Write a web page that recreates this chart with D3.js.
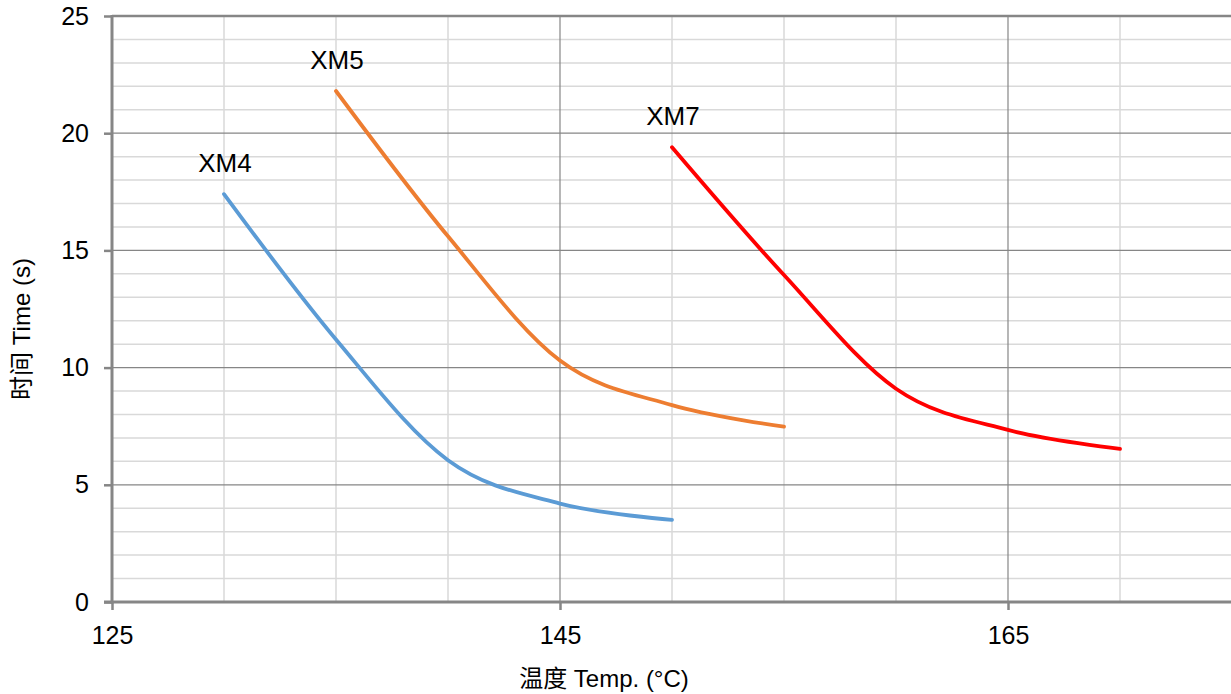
<!DOCTYPE html>
<html>
<head>
<meta charset="utf-8">
<script src="https://cdn.jsdelivr.net/npm/d3@7"></script>
<style>
html,body{margin:0;padding:0;background:#fff;}
svg{display:block;font-family:"Liberation Sans",Arial,"Noto Sans CJK SC",sans-serif;}
</style>
</head>
<body>
<svg id="chart" width="1231" height="694"></svg>
<script>
const temps4 = [130, 135, 140, 145, 150];
const xm4 = [17.4, 11.2, 6.05, 4.2, 3.5];
const temps5 = [135, 140, 145, 150, 155];
const xm5 = [21.8, 15.6, 10.3, 8.4, 7.48];
const temps7 = [150, 155, 160, 165, 170];
const xm7 = [19.4, 13.95, 9.1, 7.34, 6.53];
const seriesNames = ["XM4", "XM5", "XM7"];
const xTicks = [125, 145, 165];
const yTicks = [0, 5, 10, 15, 20, 25];

const series = [
  {name: seriesNames[0], x: temps4, y: xm4, color: "#5B9BD5"},
  {name: seriesNames[1], x: temps5, y: xm5, color: "#ED7D31"},
  {name: seriesNames[2], x: temps7, y: xm7, color: "#FF0000"}
];

const svg = d3.select("#chart");
const pL = 112, pR = 1232, pT = 16, pB = 602;
const x = d3.scaleLinear().domain([125, 175]).range([pL, pR]);
const y = d3.scaleLinear().domain([0, 25]).range([pB, pT]);

const g = svg.append("g");
// minor grid
const minorX = d3.range(125, 176, 5).filter(v => !xTicks.includes(v));
const minorY = d3.range(0, 26, 1).filter(v => v % 5 !== 0);
g.selectAll(".mx").data(minorX).enter().append("line")
  .attr("x1", d => x(d)).attr("x2", d => x(d)).attr("y1", pT).attr("y2", pB)
  .attr("stroke", "#d9d9d9").attr("stroke-width", 1.5);
g.selectAll(".my").data(minorY).enter().append("line")
  .attr("x1", pL).attr("x2", 1231).attr("y1", d => y(d)).attr("y2", d => y(d))
  .attr("stroke", "#d9d9d9").attr("stroke-width", 1.5);
// major grid
g.selectAll(".Mx").data(xTicks.slice(1)).enter().append("line")
  .attr("x1", d => x(d)).attr("x2", d => x(d)).attr("y1", pT).attr("y2", pB)
  .attr("stroke", "#868686").attr("stroke-width", 1.2);
g.selectAll(".My").data(yTicks.filter(v => v > 0 && v < 25)).enter().append("line")
  .attr("x1", pL).attr("x2", 1231).attr("y1", d => y(d)).attr("y2", d => y(d))
  .attr("stroke", "#868686").attr("stroke-width", 1.2);
// top border line
g.append("line").attr("x1", pL).attr("x2", 1231).attr("y1", y(25)).attr("y2", y(25))
  .attr("stroke", "#868686").attr("stroke-width", 2.5);

// axes
const yAxis = d3.axisLeft(y).tickValues(yTicks).tickSize(8).tickPadding(15);
const yg = svg.append("g").attr("transform", `translate(${pL},0)`).call(yAxis);
const xAxis = d3.axisBottom(x).tickValues(xTicks).tickSize(8).tickPadding(16);
const xg = svg.append("g").attr("transform", `translate(0,${pB})`).call(xAxis);
[yg, xg].forEach(a => {
  a.select(".domain").remove();
  a.selectAll(".tick line").attr("stroke", "#868686").attr("stroke-width", 2.5);
  a.selectAll(".tick text").attr("fill", "#000").style("font-size", "25px")
    .style("font-family", '"Liberation Sans", Arial, sans-serif');
});
xg.selectAll(".tick text").attr("dy", "0.71em");
svg.append("line").attr("x1", pL).attr("x2", pL).attr("y1", pT - 1).attr("y2", pB + 1.5)
  .attr("stroke", "#868686").attr("stroke-width", 3);
svg.append("line").attr("x1", pL - 8).attr("x2", 1231).attr("y1", pB).attr("y2", pB)
  .attr("stroke", "#868686").attr("stroke-width", 3);

// lines (Excel-style smoothed line)
const line = d3.line().x(d => x(d[0])).y(d => y(d[1])).curve(d3.curveCardinal.tension(0));
series.forEach(s => {
  const pts = s.x.map((v, i) => [v, s.y[i]]);
  svg.append("path").datum(pts).attr("d", line)
    .attr("fill", "none").attr("stroke", s.color).attr("stroke-width", 3.8)
    .attr("stroke-linecap", "round").attr("stroke-linejoin", "round");
  svg.append("text").attr("x", x(s.x[0]) + 1).attr("y", y(s.y[0]) - 22)
    .attr("text-anchor", "middle").style("font-size", "26px").attr("fill", "#000")
    .text(s.name);
});

// axis titles
svg.append("text").attr("x", 604).attr("y", 687).attr("text-anchor", "middle")
  .style("font-size", "24px").attr("fill", "#000").text("温度 Temp. (°C)");
svg.append("text").attr("transform", "translate(30,329) rotate(-90)").attr("text-anchor", "middle")
  .style("font-size", "24px").attr("fill", "#000").text("时间 Time (s)");
</script>
</body>
</html>
